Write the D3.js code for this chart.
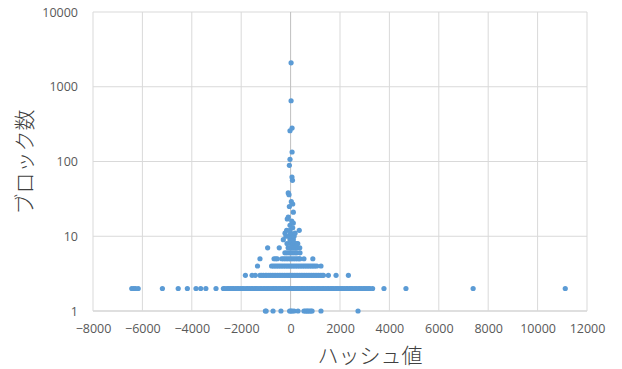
<!DOCTYPE html>
<html>
<head>
<meta charset="utf-8">
<script src="https://cdn.jsdelivr.net/npm/d3@7"></script>
<style>
  body { margin: 0; background: #fff; }
  .tick text { font-family: 'Open Sans', sans-serif; font-size: 12.5px; fill: #595959; }
</style>
</head>
<body>
<div id="chart"></div>
<script>
// tick labels
const xTicks = [-8000, -6000, -4000, -2000, 0, 2000, 4000, 6000, 8000, 10000, 12000];
const yTicks = [1, 10, 100, 1000, 10000];

// hash values of blocks, one array per block count
const hashAt1 = [-1020, -990, -710, -390, -40, 10, 60, 140, 300, 540, 600, 660, 700, 760, 820, 870, 1230, 2730];
const hashAt2 = [-6430, -6350, -6280, -6170, -5190, -4550, -4180, -3830, -3640, -3430, -3020,
  -2720, -2660, -2570, -2510, -2440, -2370, -2310, -2230, -2160, -2100, -2020, -1950, -1890, -1800,
  -1740, -1670, -1590, -1530, -1450, -1390, -1320, -1240, -1180, -1100, -1040, -960, -900, -830,
  -750, -690, -620, -560, -480, -420, -340, -270, -210, -140, -70, -20, 30, 90, 150, 220, 290, 350,
  430, 490, 560, 640, 700, 770, 850, 910, 980, 1060, 1120, 1190, 1270, 1330, 1400, 1480, 1540, 1620,
  1680, 1750, 1830, 1890, 1960, 2040, 2100, 2170, 2250, 2310, 2390, 2450, 2520, 2600, 2660, 2740,
  2800, 2870, 2950, 3010, 3080, 3150, 3210, 3320, 3780, 4670, 7390, 11120];
const hashAt3 = [-1830, -1560, -1430, -1240, -1170, -1100, -1020, -960, -880, -810, -740, -670,
  -600, -530, -460, -390, -320, -250, -180, -110, -50, 10, 80, 150, 220, 290, 360, 430, 500, 570,
  640, 710, 780, 850, 920, 990, 1060, 1130, 1200, 1270, 1330, 1530, 1840, 2340];
const hashAt4 = [-1340, -770, -700, -630, -560, -490, -420, -350, -280, -210, -140, -70, 0, 70,
  140, 210, 280, 350, 420, 490, 560, 630, 700, 770, 840, 910, 980, 1060, 1230];
const hashAt5 = [-1240, -670, -600, -540, -360, -290, -220, -150, -80, -10, 60, 130, 200, 270,
  340, 380, 540, 900];

// remaining sparse points (hash value, block count)
const sparseHash = [-230, -150, -60, 20, 100, 180, 250, 380,
  -930, -460, -100, -20, 40, 120, 200, 280, 370,
  -145, 15, 100, 180, 245, 290,
  -295, -25, 110,
  -185, -65, 55, 140,
  -225, 0, 180,
  -160, -25, 350,
  85, -25, 110, 45, -135, -95, 110, -50, 85, 30, -65, -95, 75, 55, -50, -25, 60, -25, 60, 20, 20];
const sparseCount = [6, 6, 6, 6, 6, 6, 6, 6,
  7, 7, 7, 7, 7, 7, 7, 7, 7,
  8, 8, 8, 8, 8, 8,
  9, 9, 9,
  10, 10, 10, 10,
  11, 11, 11,
  12, 12, 12,
  13, 14, 15, 16, 17, 18, 21, 25, 27, 29, 36, 38, 56, 62, 89, 107, 134, 258, 280, 650, 2090];

const width = 622, height = 369;
const margin = { top: 12, right: 35, bottom: 58, left: 93 };

const points = [];
[[1, hashAt1], [2, hashAt2], [3, hashAt3], [4, hashAt4], [5, hashAt5]].forEach(([c, arr]) => {
  arr.forEach(h => points.push({ x: h, y: c }));
});
sparseHash.forEach((h, i) => points.push({ x: h, y: sparseCount[i] }));

const svg = d3.select('#chart').append('svg')
  .attr('width', width)
  .attr('height', height);

const x = d3.scaleLinear()
  .domain([-8000, 12000])
  .range([margin.left, width - margin.right]);

const y = d3.scaleLog()
  .domain([1, 10000])
  .range([height - margin.bottom, margin.top]);

// gridlines
svg.append('g')
  .selectAll('line.hgrid')
  .data(yTicks)
  .enter().append('line')
  .attr('x1', margin.left).attr('x2', width - margin.right)
  .attr('y1', d => y(d)).attr('y2', d => y(d))
  .attr('stroke', d => d === 1 ? '#bfbfbf' : '#d9d9d9')
  .attr('stroke-width', 1);

svg.append('g')
  .selectAll('line.vgrid')
  .data(xTicks)
  .enter().append('line')
  .attr('x1', d => x(d)).attr('x2', d => x(d))
  .attr('y1', margin.top).attr('y2', height - margin.bottom)
  .attr('stroke', d => d === 0 ? '#bfbfbf' : '#d9d9d9')
  .attr('stroke-width', 1);

// axes (labels only)
const xAxis = svg.append('g')
  .attr('transform', `translate(0, ${height - margin.bottom})`)
  .call(d3.axisBottom(x).tickValues(xTicks).tickSize(0).tickPadding(13).tickFormat(d3.format('d')));
xAxis.select('.domain').remove();

const yAxis = svg.append('g')
  .attr('transform', `translate(${margin.left}, 0)`)
  .call(d3.axisLeft(y).tickValues(yTicks).tickSize(0).tickPadding(15).tickFormat(d3.format('d')));
yAxis.select('.domain').remove();

// points
svg.append('g')
  .selectAll('circle')
  .data(points)
  .enter().append('circle')
  .attr('cx', d => x(d.x))
  .attr('cy', d => y(d.y))
  .attr('r', 2.6)
  .attr('fill', '#5b9bd5');

// axis titles
svg.append('text')
  .attr('x', (margin.left + width - margin.right) / 2 + 30)
  .attr('y', 363)
  .attr('text-anchor', 'middle')
  .attr('font-family', 'Noto Sans CJK JP')
  .attr('font-size', '21px')
  .attr('font-weight', 300)
  .attr('fill', '#404040')
  .text('ハッシュ値');

svg.append('text')
  .attr('transform', 'translate(32, 162) rotate(-90)')
  .attr('text-anchor', 'middle')
  .attr('font-family', 'Noto Sans CJK JP')
  .attr('font-size', '21px')
  .attr('font-weight', 300)
  .attr('fill', '#404040')
  .text('ブロック数');
</script>
</body>
</html>
